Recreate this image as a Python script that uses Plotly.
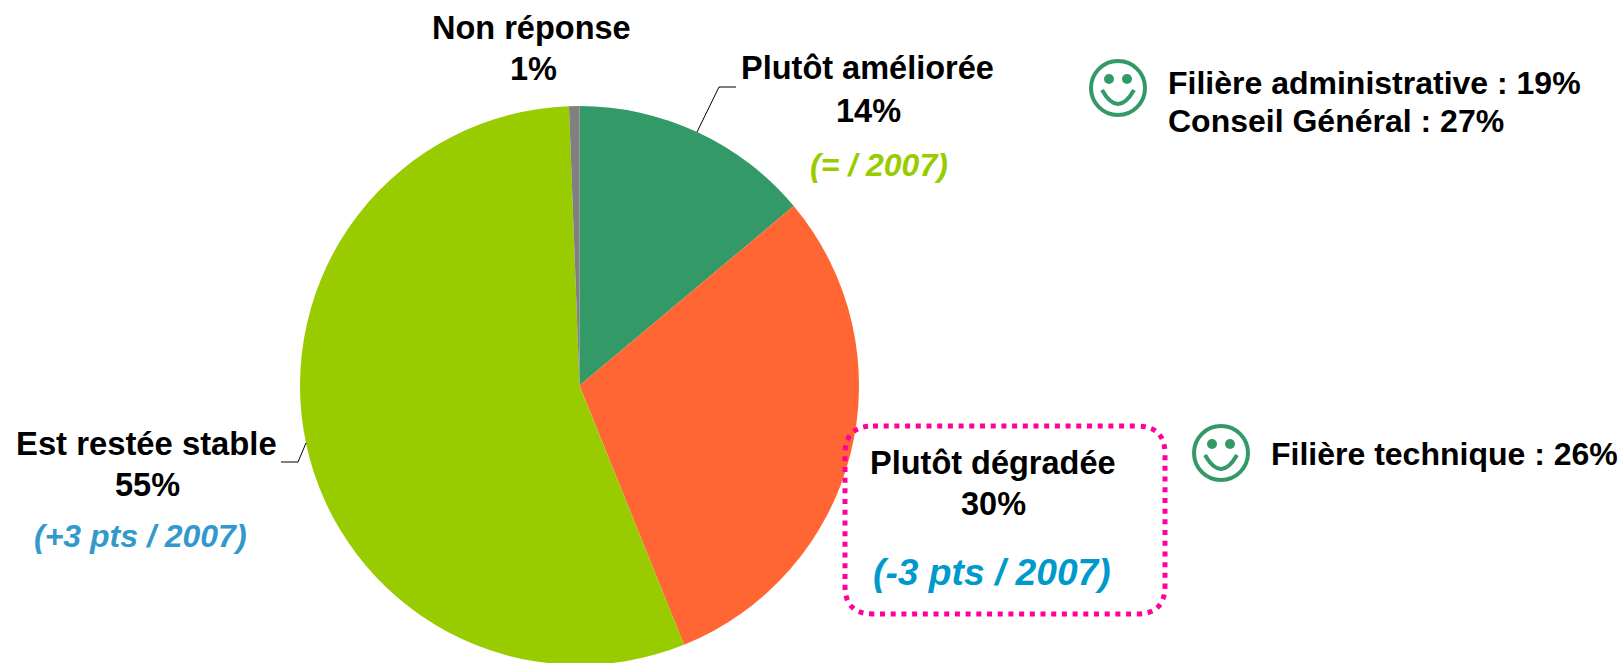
import plotly.graph_objects as go

categories = ["Plutôt améliorée", "Plutôt dégradée", "Est restée stable", "Non réponse"]
values = [13.9, 30, 55.5, 0.6]
colors = ["#339966", "#FF6633", "#99CC00", "#808080"]
W, H = 1623, 690  # taller than the window: the pie's foot is cropped by the page edge, as in the reference
FONT = "Liberation Sans, Arial, sans-serif"

def px(x): return x / W
def py(y): return 1 - y / H

CX, CY, R = 579.5, 385.5, 279.5

fig = go.Figure(go.Pie(
    labels=categories, values=values, sort=False, direction="clockwise", rotation=0,
    marker=dict(colors=colors, line=dict(width=0)), textinfo="none", hoverinfo="label+percent",
    showlegend=False,
    domain=dict(x=[px(CX - R), px(CX + R)], y=[py(CY + R), py(CY - R)]),
))

texts = [
    ("Non réponse", 531, 28, 32.5, "#000000", False, "center"),
    ("1%", 533, 69, 32.5, "#000000", False, "center"),
    ("Plutôt améliorée", 867, 68, 32.5, "#000000", False, "center"),
    ("14%", 868, 111, 32.5, "#000000", False, "center"),
    ("(= / 2007)", 879, 165, 32, "#99CC00", True, "center"),
    ("Est restée stable", 146, 443, 32.8, "#000000", False, "center"),
    ("55%", 147, 485, 32.5, "#000000", False, "center"),
    ("(+3 pts / 2007)", 140, 536, 32, "#3399CC", True, "center"),
    ("Plutôt dégradée", 993, 463, 32.5, "#000000", False, "center"),
    ("30%", 993, 504, 32.5, "#000000", False, "center"),
    ("(-3 pts / 2007)", 992, 572, 37.2, "#0099CC", True, "center"),
    ("Filière administrative : 19%", 1166, 83, 32, "#000000", False, "left"),
    ("Conseil Général : 27%", 1166, 121, 32, "#000000", False, "left"),
    ("Filière technique : 26%", 1269, 454, 32, "#000000", False, "left"),
]
annotations = []
for t, x, y, size, col, ital, anchor in texts:
    inner = f"<b><i>{t}</i></b>" if ital else f"<b>{t}</b>"
    annotations.append(dict(
        text=inner, x=px(x), y=py(y), xref="paper", yref="paper", showarrow=False,
        xanchor=anchor, yanchor="middle", font=dict(family=FONT, size=size, color=col),
    ))

shapes = []
def polyline(points, color="#000000", width=1):
    d = "M " + " L ".join(f"{px(x)},{py(y)}" for x, y in points)
    shapes.append(dict(type="path", xref="paper", yref="paper", path=d,
                       line=dict(color=color, width=width)))

polyline([(697, 132), (719, 87), (736, 87)])
polyline([(306, 443), (298, 462), (281, 462)])

# dotted rounded box
L, T, Rt, B, r = 845, 426, 1165, 614, 28
def P(x, y): return f"{px(x)},{py(y)}"
box = (f"M {P(L + r, T)} L {P(Rt - r, T)} Q {P(Rt, T)} {P(Rt, T + r)} L {P(Rt, B - r)} "
       f"Q {P(Rt, B)} {P(Rt - r, B)} L {P(L + r, B)} Q {P(L, B)} {P(L, B - r)} "
       f"L {P(L, T + r)} Q {P(L, T)} {P(L + r, T)} Z")
shapes.append(dict(type="path", xref="paper", yref="paper", path=box,
                   line=dict(color="#FF0099", width=5, dash="5px,5.7px")))

# smileys
def smiley(cx, cy, color="#339966"):
    shapes.append(dict(type="circle", xref="paper", yref="paper",
                       x0=px(cx - 27), x1=px(cx + 27), y0=py(cy + 27), y1=py(cy - 27),
                       line=dict(color=color, width=4), fillcolor="rgba(0,0,0,0)"))
    for ex in (-9, 9):
        shapes.append(dict(type="circle", xref="paper", yref="paper",
                           x0=px(cx + ex - 5), x1=px(cx + ex + 5), y0=py(cy - 9 + 5), y1=py(cy - 9 - 5),
                           line=dict(width=0), fillcolor=color))
    shapes.append(dict(type="path", xref="paper", yref="paper",
                       path=f"M {P(cx - 16, cy + 2)} Q {P(cx, cy + 30)} {P(cx + 16, cy + 2)}",
                       line=dict(color=color, width=4)))

smiley(1118, 88)
smiley(1221, 453)

fig.update_layout(width=W, height=H, margin=dict(l=0, r=0, t=0, b=0), autosize=False,
                  paper_bgcolor="white", plot_bgcolor="white",
                  annotations=annotations, shapes=shapes)
fig.write_html("out.html", config=dict(displayModeBar=False),
               post_script="document.documentElement.style.overflow='hidden';document.body.style.margin='0';document.body.style.overflow='hidden';")
